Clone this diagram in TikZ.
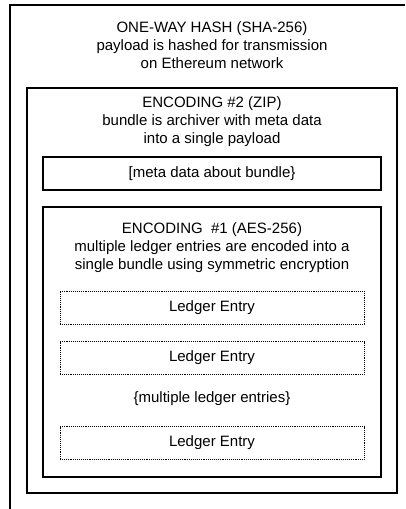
\documentclass[tikz,border=0pt]{standalone}
\usepackage{fontspec}
\setmainfont{Liberation Sans}
\usetikzlibrary{positioning}

\begin{document}
\begin{tikzpicture}[x=1pt,y=-1pt,
    title/.style={align=center,font=\fontsize{15}{18}\selectfont},
    box/.style={draw,line width=1.4pt,minimum width=338pt,minimum height=33pt,font=\fontsize{15}{18}\selectfont},
    entry/.style={draw,densely dotted,line width=0.9pt,minimum width=304pt,minimum height=33pt,font=\fontsize{15}{18}\selectfont}]
    \useasboundingbox (0,0) rectangle (405,509);
    %outer frame runs off the page
    \draw [line width=1.6pt] (10,509) -- (10,5) -- (405,5);
    \node[title] (hash) at (212,45) {ONE-WAY HASH (SHA-256)\\payload is hashed for transmission\\on Ethereum network};
    %encoding 2
    \draw [line width=1.2pt] (27,88) rectangle (397,493);
    \node[title] (zip) at (212,121.5) {ENCODING \#2 (ZIP)\\bundle is archiver with meta data\\into a single payload};
    \node[box] (meta) at (212,173.5) {[meta data about bundle\}};
    %encoding 1
    \draw [line width=1.8pt] (43,207) rectangle (381,477);
    \node[title] (aes) at (212,248) {ENCODING \ \#1 (AES-256)\\multiple ledger entries are encoded into a\\single bundle using symmetric encryption};
    \node[entry] (entry1) at (212,307.5) {Ledger Entry};
    \node[entry] (entry2) at (212,358) {Ledger Entry};
    \node[title] (more) at (212,399) {\{multiple ledger entries\}};
    \node[entry] (entry3) at (212,443) {Ledger Entry};
\end{tikzpicture}
\end{document}
